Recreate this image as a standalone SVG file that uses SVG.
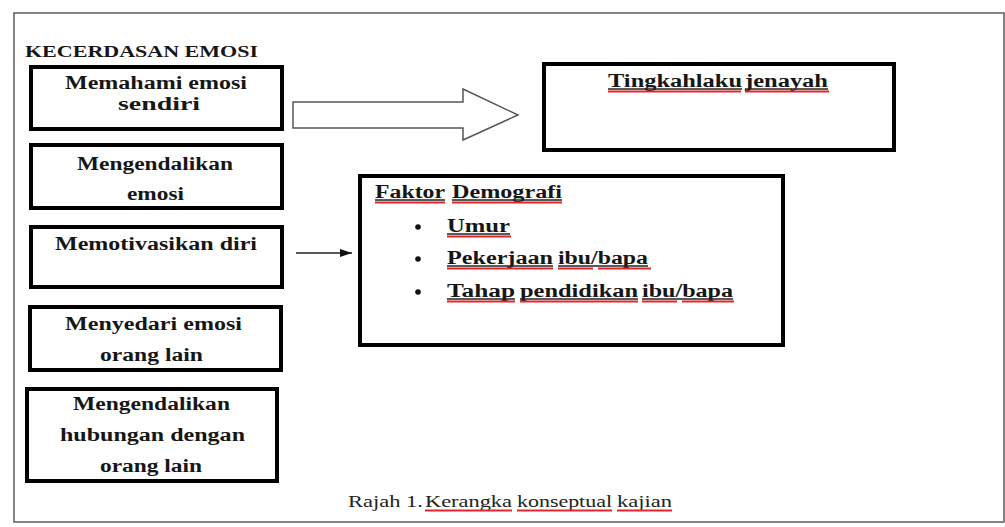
<svg xmlns="http://www.w3.org/2000/svg" width="1005" height="527" viewBox="0 0 1005 527">
<style>
.box{fill:#fff;stroke:#000;stroke-width:4}
.t{font-family:'Liberation Serif','DejaVu Serif',serif;font-weight:bold;font-size:18px;fill:#161616}
.h{font-family:'Liberation Serif','DejaVu Serif',serif;font-weight:bold;font-size:16px;fill:#161616}
.c{font-family:'Liberation Serif','DejaVu Serif',serif;font-size:17px;fill:#222}
.ul{stroke:#222;stroke-width:1.3}
.red{stroke:#e3262b;stroke-width:2}
</style>
<defs>
<marker id="ah" markerWidth="12" markerHeight="8" refX="12" refY="4" orient="auto" markerUnits="userSpaceOnUse">
<path d="M0,0 L12,4 L0,8 Z" fill="#111"/>
</marker>
<clipPath id="clip4"><rect x="30" y="307" width="251" height="59"/></clipPath>
</defs>
<rect x="0" y="0" width="1005" height="527" fill="#fff"/>
<rect x="14" y="13" width="990" height="509" fill="none" stroke="#666" stroke-width="1.6"/>

<g id="title">
<text class="h" x="25" y="57" textLength="233" lengthAdjust="spacingAndGlyphs">KECERDASAN EMOSI</text>
</g>

<g id="node-memahami">
<rect class="box" x="31" y="67" width="251" height="62"/>
<text class="t" x="65" y="89" textLength="182" lengthAdjust="spacingAndGlyphs">Memahami emosi</text>
<text class="t" x="118" y="110" textLength="82" lengthAdjust="spacingAndGlyphs">sendiri</text>
</g>

<g id="node-mengendalikan-emosi">
<rect class="box" x="31" y="145" width="251" height="63"/>
<text class="t" x="77" y="170" textLength="156" lengthAdjust="spacingAndGlyphs">Mengendalikan</text>
<text class="t" x="127" y="200" textLength="57" lengthAdjust="spacingAndGlyphs">emosi</text>
</g>

<g id="node-memotivasikan">
<rect class="box" x="31" y="227" width="251" height="60"/>
<text class="t" x="55" y="250" textLength="202" lengthAdjust="spacingAndGlyphs">Memotivasikan diri</text>
</g>

<g id="node-menyedari">
<rect class="box" x="30" y="307" width="251" height="63"/>
<text class="t" x="65" y="330" textLength="177" lengthAdjust="spacingAndGlyphs">Menyedari emosi</text>
<text class="t" x="100" y="361" textLength="103" lengthAdjust="spacingAndGlyphs" clip-path="url(#clip4)">orang lain</text>
</g>

<g id="node-hubungan">
<rect class="box" x="27" y="389" width="250" height="92"/>
<text class="t" x="73" y="410" textLength="157" lengthAdjust="spacingAndGlyphs">Mengendalikan</text>
<text class="t" x="60" y="441" textLength="185" lengthAdjust="spacingAndGlyphs">hubungan dengan</text>
<text class="t" x="100" y="472" textLength="102" lengthAdjust="spacingAndGlyphs">orang lain</text>
</g>

<g id="node-tingkahlaku">
<rect class="box" x="544" y="64" width="350" height="86"/>
<text class="t" x="608" y="87" textLength="134" lengthAdjust="spacingAndGlyphs">Tingkahlaku</text>
<text class="t" x="745" y="87" textLength="83" lengthAdjust="spacingAndGlyphs">jenayah</text>
<line class="ul" x1="608" y1="89" x2="742" y2="89"/>
<line class="ul" x1="745" y1="89" x2="828" y2="89"/>
<line class="red" x1="608" y1="91.5" x2="741" y2="91.5"/>
<line class="red" x1="745" y1="91.5" x2="829" y2="91.5"/>
</g>

<g id="node-faktor">
<rect class="box" x="360" y="176" width="423" height="169"/>
<text class="t" x="375" y="198" textLength="70" lengthAdjust="spacingAndGlyphs">Faktor</text>
<text class="t" x="452" y="198" textLength="110" lengthAdjust="spacingAndGlyphs">Demografi</text>
<line class="ul" x1="375" y1="200" x2="445" y2="200"/>
<line class="ul" x1="452" y1="200" x2="562" y2="200"/>
<line class="red" x1="375" y1="202.5" x2="445" y2="202.5"/>
<line class="red" x1="452" y1="202.5" x2="562" y2="202.5"/>

<circle cx="418" cy="227" r="2.8" fill="#111"/>
<circle cx="418" cy="259" r="2.8" fill="#111"/>
<circle cx="418" cy="292" r="2.8" fill="#111"/>

<text class="t" x="447" y="232" textLength="63" lengthAdjust="spacingAndGlyphs">Umur</text>
<line class="ul" x1="447" y1="234" x2="510" y2="234"/>
<line class="red" x1="447" y1="236.5" x2="511" y2="236.5"/>

<text class="t" x="447" y="264" textLength="106" lengthAdjust="spacingAndGlyphs">Pekerjaan</text>
<text class="t" x="558" y="264" textLength="90" lengthAdjust="spacingAndGlyphs">ibu/bapa</text>
<line class="ul" x1="447" y1="266" x2="553" y2="266"/>
<line class="ul" x1="558" y1="266" x2="648" y2="266"/>
<line class="red" x1="447" y1="268.5" x2="553" y2="268.5"/>
<line class="red" x1="558" y1="268.5" x2="593" y2="268.5"/>
<line class="red" x1="598" y1="268.5" x2="651" y2="268.5"/>

<text class="t" x="447" y="297" textLength="68" lengthAdjust="spacingAndGlyphs">Tahap</text>
<text class="t" x="520" y="297" textLength="118" lengthAdjust="spacingAndGlyphs">pendidikan</text>
<text class="t" x="642" y="297" textLength="91" lengthAdjust="spacingAndGlyphs">ibu/bapa</text>
<line class="ul" x1="447" y1="299" x2="515" y2="299"/>
<line class="ul" x1="520" y1="299" x2="638" y2="299"/>
<line class="ul" x1="642" y1="299" x2="733" y2="299"/>
<line class="red" x1="447" y1="301.5" x2="515" y2="301.5"/>
<line class="red" x1="520" y1="301.5" x2="638" y2="301.5"/>
<line class="red" x1="642" y1="301.5" x2="677" y2="301.5"/>
<line class="red" x1="682" y1="301.5" x2="734" y2="301.5"/>
</g>

<g id="connectors">
<path d="M293,102 L463,102 L463,89 L518,115 L463,140 L463,128 L293,128 Z" fill="#fff" stroke="#555" stroke-width="1.5" stroke-linejoin="miter"/>
<line x1="296" y1="253" x2="352" y2="253" stroke="#222" stroke-width="1.3" marker-end="url(#ah)"/>
</g>

<g id="caption">
<text class="c" x="348" y="507" textLength="75" lengthAdjust="spacingAndGlyphs">Rajah 1.</text>
<text class="c" x="425" y="507" textLength="87" lengthAdjust="spacingAndGlyphs">Kerangka</text>
<text class="c" x="517" y="507" textLength="95" lengthAdjust="spacingAndGlyphs">konseptual</text>
<text class="c" x="617" y="507" textLength="55" lengthAdjust="spacingAndGlyphs">kajian</text>
<line class="red" x1="425" y1="510.5" x2="512" y2="510.5"/>
<line class="red" x1="517" y1="510.5" x2="612" y2="510.5"/>
<line class="red" x1="617" y1="510.5" x2="672" y2="510.5"/>
</g>
</svg>
